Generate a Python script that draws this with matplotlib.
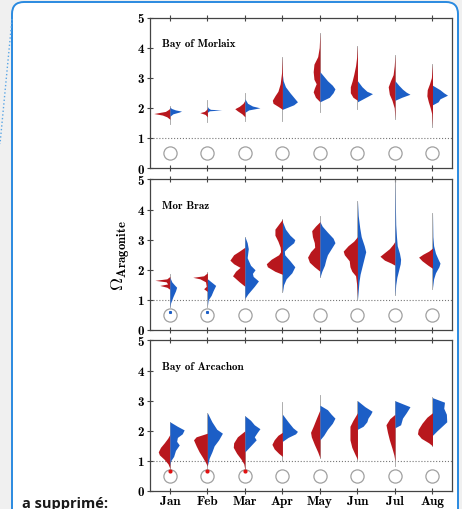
import matplotlib
matplotlib.use("Agg")
import matplotlib.pyplot as plt
import numpy as np
from matplotlib.patches import FancyBboxPatch
from matplotlib.lines import Line2D

plt.rcParams['mathtext.fontset'] = 'cm'

months = ['Jan', 'Feb', 'Mar', 'Apr', 'May', 'Jun', 'Jul', 'Aug']
regions = ['Bay of Morlaix', 'Mor Braz', 'Bay of Arcachon']

# half-violin profiles: (omega, half width)
morlaix_red = [
    [(1.62, 0), (1.7, 0.08), (1.76, 0.2), (1.81, 0.43), (1.84, 0.3), (1.88, 0.12), (1.95, 0.03), (2.0, 0)],
    [(1.7, 0), (1.78, 0.06), (1.84, 0.2), (1.88, 0.08), (1.95, 0.02), (2.0, 0)],
    [(1.7, 0), (1.8, 0.08), (1.9, 0.2), (1.97, 0.27), (2.05, 0.15), (2.15, 0.05), (2.25, 0)],
    [(1.95, 0), (2.05, 0.12), (2.15, 0.25), (2.25, 0.27), (2.4, 0.2), (2.55, 0.12), (2.8, 0.06), (3.2, 0.02), (3.7, 0)],
    [(2.2, 0), (2.35, 0.12), (2.53, 0.18), (2.65, 0.15), (2.8, 0.1), (2.95, 0.16), (3.2, 0.18), (3.45, 0.16), (3.7, 0.06), (4.0, 0.02), (4.5, 0)],
    [(2.25, 0), (2.35, 0.12), (2.5, 0.19), (2.7, 0.19), (2.9, 0.14), (3.1, 0.1), (3.4, 0.05), (3.7, 0.02), (4.07, 0)],
    [(1.65, 0), (2.0, 0.02), (2.25, 0.08), (2.45, 0.15), (2.7, 0.18), (2.9, 0.12), (3.1, 0.05), (3.4, 0.02), (3.75, 0)],
    [(1.4, 0), (1.8, 0.02), (2.0, 0.06), (2.2, 0.11), (2.4, 0.15), (2.6, 0.14), (2.8, 0.08), (3.0, 0.03), (3.45, 0)],
]
morlaix_blue = [
    [(1.72, 0), (1.8, 0.08), (1.86, 0.25), (1.89, 0.31), (1.93, 0.15), (1.98, 0.04), (2.03, 0)],
    [(1.85, 0), (1.9, 0.05), (1.93, 0.38), (1.95, 0.08), (2.0, 0.02), (2.05, 0)],
    [(1.85, 0), (1.93, 0.1), (2.0, 0.4), (2.06, 0.2), (2.15, 0.07), (2.3, 0)],
    [(1.95, 0), (2.1, 0.3), (2.2, 0.4), (2.35, 0.3), (2.5, 0.2), (2.7, 0.08), (2.9, 0.02), (3.1, 0)],
    [(2.2, 0), (2.35, 0.25), (2.5, 0.35), (2.63, 0.4), (2.75, 0.33), (2.9, 0.2), (3.05, 0.1), (3.2, 0)],
    [(2.2, 0), (2.3, 0.15), (2.4, 0.3), (2.47, 0.4), (2.55, 0.25), (2.7, 0.12), (2.9, 0)],
    [(2.25, 0), (2.35, 0.18), (2.45, 0.4), (2.52, 0.3), (2.62, 0.2), (2.75, 0.1), (2.9, 0)],
    [(2.1, 0), (2.2, 0.15), (2.3, 0.2), (2.42, 0.4), (2.5, 0.3), (2.6, 0.2), (2.75, 0)],
]
morbraz_red = [
    [(1.35, 0), (1.42, 0.08), (1.48, 0.27), (1.53, 0.06), (1.6, 0.1), (1.65, 0.4), (1.7, 0.08), (1.78, 0)],
    [(1.28, 0), (1.37, 0.1), (1.45, 0.03), (1.6, 0.05), (1.7, 0.2), (1.75, 0.39), (1.8, 0.1), (1.9, 0)],
    [(1.45, 0), (1.6, 0.15), (1.8, 0.33), (1.95, 0.25), (2.08, 0.13), (2.2, 0.3), (2.32, 0.4), (2.5, 0.3), (2.62, 0.15), (2.75, 0)],
    [(1.85, 0), (1.95, 0.2), (2.1, 0.4), (2.2, 0.43), (2.35, 0.3), (2.5, 0.1), (2.6, 0.05), (2.75, 0.06), (2.95, 0.12), (3.15, 0.2), (3.35, 0.2), (3.55, 0.08), (3.68, 0)],
    [(1.95, 0), (2.1, 0.15), (2.25, 0.28), (2.42, 0.33), (2.6, 0.25), (2.75, 0.14), (2.9, 0.15), (3.1, 0.2), (3.3, 0.22), (3.45, 0.12), (3.6, 0)],
    [(1.1, 0), (1.5, 0.02), (1.8, 0.05), (1.95, 0.15), (2.1, 0.2), (2.3, 0.22), (2.5, 0.35), (2.62, 0.38), (2.8, 0.25), (2.95, 0.1), (3.1, 0)],
    [(2.15, 0), (2.22, 0.1), (2.32, 0.28), (2.45, 0.4), (2.55, 0.3), (2.7, 0.15), (2.85, 0.05), (2.95, 0)],
    [(2.05, 0), (2.15, 0.12), (2.3, 0.28), (2.42, 0.37), (2.52, 0.25), (2.62, 0.1), (2.72, 0)],
]
morbraz_blue = [
    [(0.75, 0), (0.9, 0.02), (1.1, 0.08), (1.3, 0.15), (1.42, 0.18), (1.5, 0.12), (1.6, 0.05), (1.75, 0)],
    [(0.8, 0), (1.0, 0.02), (1.15, 0.1), (1.3, 0.15), (1.48, 0.22), (1.58, 0.12), (1.7, 0)],
    [(1.05, 0), (1.2, 0.08), (1.45, 0.25), (1.63, 0.36), (1.78, 0.22), (1.88, 0.2), (2.0, 0.27), (2.15, 0.15), (2.4, 0.06), (2.7, 0.09), (2.9, 0.06), (3.1, 0)],
    [(1.25, 0), (1.5, 0.03), (1.7, 0.1), (1.9, 0.25), (2.1, 0.33), (2.3, 0.2), (2.5, 0.06), (2.62, 0.05), (2.75, 0.15), (2.9, 0.3), (3.0, 0.33), (3.15, 0.2), (3.35, 0.08), (3.6, 0)],
    [(1.75, 0), (1.95, 0.05), (2.15, 0.12), (2.35, 0.16), (2.5, 0.2), (2.7, 0.3), (2.9, 0.4), (3.05, 0.35), (3.25, 0.2), (3.45, 0.06), (3.6, 0)],
    [(1.0, 0), (1.3, 0.02), (1.6, 0.04), (1.85, 0.07), (2.1, 0.12), (2.4, 0.18), (2.6, 0.22), (2.8, 0.18), (3.1, 0.1), (3.4, 0.06), (3.8, 0.02), (4.3, 0)],
    [(1.15, 0), (1.5, 0.02), (1.75, 0.05), (2.0, 0.1), (2.2, 0.14), (2.35, 0.15), (2.55, 0.12), (2.8, 0.06), (3.1, 0.04), (3.5, 0.02), (4.2, 0.01), (5.0, 0)],
    [(1.4, 0), (1.7, 0.03), (1.9, 0.08), (2.1, 0.17), (2.22, 0.2), (2.35, 0.15), (2.55, 0.08), (2.8, 0.03), (3.1, 0.01), (3.9, 0)],
]
arcachon_red = [
    [(0.75, 0), (0.9, 0.05), (1.05, 0.15), (1.2, 0.28), (1.3, 0.31), (1.45, 0.25), (1.6, 0.15), (1.75, 0.06), (1.88, 0)],
    [(0.82, 0), (0.95, 0.05), (1.1, 0.12), (1.3, 0.22), (1.5, 0.3), (1.7, 0.37), (1.8, 0.3), (1.92, 0)],
    [(0.7, 0), (0.9, 0.03), (1.05, 0.1), (1.25, 0.22), (1.45, 0.31), (1.6, 0.3), (1.8, 0.2), (2.0, 0)],
    [(1.15, 0), (1.25, 0.1), (1.4, 0.22), (1.55, 0.28), (1.7, 0.22), (1.85, 0.12), (1.95, 0)],
    [(1.1, 0), (1.3, 0.06), (1.55, 0.15), (1.8, 0.23), (1.95, 0.25), (2.15, 0.18), (2.4, 0.1), (2.7, 0)],
    [(1.05, 0), (1.2, 0.06), (1.45, 0.15), (1.7, 0.2), (1.9, 0.2), (2.15, 0.2), (2.35, 0.12), (2.6, 0)],
    [(1.0, 0), (1.2, 0.03), (1.42, 0.08), (1.7, 0.15), (1.95, 0.2), (2.2, 0.24), (2.4, 0.14), (2.55, 0)],
    [(1.5, 0), (1.6, 0.1), (1.75, 0.3), (1.9, 0.4), (2.05, 0.38), (2.25, 0.28), (2.45, 0.15), (2.6, 0)],
]
arcachon_blue = [
    [(0.85, 0), (1.0, 0.02), (1.15, 0.1), (1.35, 0.15), (1.53, 0.25), (1.65, 0.18), (1.78, 0.2), (1.9, 0.33), (2.03, 0.38), (2.15, 0.2), (2.3, 0)],
    [(0.85, 0), (1.1, 0.05), (1.3, 0.12), (1.5, 0.18), (1.7, 0.3), (1.92, 0.4), (2.05, 0.25), (2.3, 0.12), (2.6, 0)],
    [(1.3, 0), (1.5, 0.15), (1.7, 0.3), (1.8, 0.25), (1.95, 0.33), (2.07, 0.4), (2.2, 0.25), (2.35, 0.15), (2.5, 0)],
    [(1.65, 0), (1.78, 0.15), (1.9, 0.35), (1.98, 0.4), (2.1, 0.28), (2.3, 0.15), (2.55, 0)],
    [(1.7, 0), (1.85, 0.1), (2.05, 0.2), (2.25, 0.33), (2.42, 0.4), (2.55, 0.3), (2.7, 0.2), (2.85, 0)],
    [(2.05, 0), (2.15, 0.15), (2.3, 0.25), (2.42, 0.28), (2.55, 0.35), (2.65, 0.39), (2.8, 0.2), (3.0, 0)],
    [(2.1, 0), (2.2, 0.15), (2.42, 0.2), (2.6, 0.3), (2.8, 0.4), (2.9, 0.2), (3.0, 0)],
    [(1.85, 0), (2.0, 0.12), (2.15, 0.25), (2.3, 0.38), (2.55, 0.37), (2.75, 0.3), (2.95, 0.32), (3.1, 0)],
]

# whisker extent of each violin
morlaix_tail = [(1.47, 2.05), (1.53, 2.27), (1.55, 2.5), (1.55, 3.7), (1.87, 4.5), (1.97, 4.07), (1.63, 3.75), (1.37, 3.47)]
morbraz_tail = [(0.75, 1.86), (0.75, 1.92), (1.0, 3.1), (1.26, 3.7), (1.75, 3.8), (1.0, 4.3), (1.15, 5.0), (1.37, 3.9)]
arcachon_tail = [(0.62, 2.3), (0.65, 2.6), (0.65, 2.5), (1.0, 2.97), (1.1, 3.2), (1.0, 3.0), (0.82, 3.0), (1.5, 3.13)]

# outliers below the violins
morbraz_out_blue = [(0, 0.6), (1, 0.6)]
arcachon_out_red = [(0, 0.65), (1, 0.66), (2, 0.68)]

RED = '#b8171d'
BLUE = '#1c5ec6'
TXT = 'cmb10'

fig = plt.figure(figsize=(4.62, 5.10), dpi=100)
fig.patch.set_facecolor('#f0f0f0')

# comment box + dotted connector
box = FancyBboxPatch((12, -30), 446, 537, boxstyle='round,pad=0,rounding_size=12',
                     transform=None, facecolor='white', edgecolor='#2a8ae0', lw=1.4, zorder=-2)
fig.add_artist(box)
fig.add_artist(Line2D([12, 0], [490, 365], transform=None, color='#5aa6e6', ls=':', lw=1.0, zorder=-1))
fig.text(22 / 462, 2 / 510, 'a supprimé:', family='Open Sans', weight='bold', fontsize=10.5,
         color='#1a1a1a', va='baseline')

panels = [
    (regions[0], morlaix_red, morlaix_blue, morlaix_tail, 0.6686),
    (regions[1], morbraz_red, morbraz_blue, morbraz_tail, 0.3510),
    (regions[2], arcachon_red, arcachon_blue, arcachon_tail, 0.0353),
]

axes = []
for k, (name, reds, blues, tails, bottom) in enumerate(panels):
    ax = fig.add_axes([150 / 462, bottom, 302 / 462, 0.2951])
    axes.append(ax)
    ax.set_facecolor('white')
    x = np.arange(len(months))

    for i in x:
        lo, hi = tails[i]
        ax.plot([i, i], [lo, hi], color='#a0a0a0', lw=0.6, zorder=2)
        r = np.array(reds[i])
        ax.fill_betweenx(r[:, 0], i - r[:, 1], i, color=RED, lw=0, zorder=3)
        b = np.array(blues[i])
        ax.fill_betweenx(b[:, 0], i, i + b[:, 1], color=BLUE, lw=0, zorder=3)

    ax.axhline(1, color='#777777', ls=':', lw=0.8, zorder=1)
    ax.plot(x, np.full(len(x), 0.5), 'o', ms=9.5, mfc='none', mec='#a0a0a0', mew=0.9, zorder=2)

    ax.text(0.04, 0.83, name, transform=ax.transAxes, family=TXT, fontsize=8, va='center')

    ax.set_xlim(-0.53, 7.52)
    ax.set_ylim(0, 5)
    ax.set_xticks(x)
    ax.set_yticks(range(6))
    ax.set_yticklabels([str(v) for v in range(6)], family=TXT, fontsize=9.5)
    if k == 2:
        ax.set_xticklabels(months, family=TXT, fontsize=9.5)
    else:
        ax.set_xticklabels([])
    ax.tick_params(axis='both', direction='inout', length=5, width=0.8, color='#444444', pad=2)
    ax.tick_params(axis='x', top=True, pad=0.5)
    for s in ax.spines.values():
        s.set_color('#444444')
        s.set_linewidth(0.9)

axes[1].plot(*zip(*morbraz_out_blue), 's', ms=1.2, color=BLUE, zorder=4)
axes[2].plot(*zip(*arcachon_out_red), 'o', ms=2.0, color='#e01010', zorder=4)

axes[1].set_ylabel(r'$\boldsymbol{\Omega}_{\mathbf{Aragonite}}$', fontsize=13, labelpad=4)

fig.savefig('out.png', dpi=100, facecolor=fig.get_facecolor())
